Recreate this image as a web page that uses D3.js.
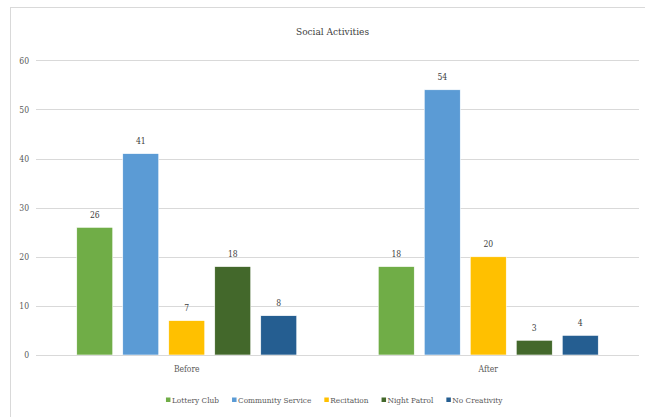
<!DOCTYPE html>
<html>
<head>
<meta charset="utf-8">
<script src="https://cdn.jsdelivr.net/npm/d3@7"></script>
<style>
  html, body { margin: 0; padding: 0; background: #fff; }
  svg { display: block; }
  svg text { font-stretch: condensed; }
</style>
</head>
<body>
<svg id="chart" width="645" height="417"></svg>
<script>
const title = "Social Activities";
const categories = ["Before", "After"];
const series = ["Lottery Club", "Community Service", "Recitation", "Night Patrol", "No Creativity"];
const lotteryClub = [26, 18];
const communityService = [41, 54];
const recitation = [7, 20];
const nightPatrol = [18, 3];
const noCreativity = [8, 4];
const yTicks = [0, 10, 20, 30, 40, 50, 60];
const colors = ["#70AD47", "#5B9BD5", "#FFC000", "#43682B", "#255E91"];

const values = [lotteryClub, communityService, recitation, nightPatrol, noCreativity];
const FONT = "'DejaVu Serif Condensed', 'DejaVu Serif', serif";

const svg = d3.select("#chart");
const plot = { left: 36, right: 639, top: 60.3, bottom: 355 };

svg.append("rect").attr("x", 10.5).attr("y", 7.5).attr("width", 700).attr("height", 500)
  .attr("fill", "none").attr("stroke", "#d9d9d9").attr("stroke-width", 1);

const y = d3.scaleLinear().domain([0, 60]).range([plot.bottom, plot.top]);
const x0 = d3.scaleBand().domain(categories).range([plot.left, plot.right]).padding(0);
const groupW = 220;
const x1 = d3.scaleBand().domain(series).range([-groupW / 2, groupW / 2])
  .paddingInner(10 / 46).paddingOuter(0);

svg.append("g").selectAll("line").data(yTicks).join("line")
  .attr("x1", plot.left).attr("x2", plot.right)
  .attr("y1", d => Math.round(y(d)) + 0.5).attr("y2", d => Math.round(y(d)) + 0.5)
  .attr("stroke", "#d9d9d9").attr("stroke-width", 1);

const yAxis = d3.axisLeft(y).tickValues(yTicks).tickSize(0).tickPadding(0);
const yg = svg.append("g").attr("transform", `translate(${plot.left - 7},0)`).call(yAxis);
yg.select(".domain").remove();
yg.attr("font-family", FONT).attr("font-size", 8.5);
yg.selectAll("text").attr("fill", "#595959");

const xAxis = d3.axisBottom(x0).tickSize(0).tickPadding(0);
const xg = svg.append("g").attr("transform", `translate(0,${plot.bottom + 11})`).call(xAxis);
xg.select(".domain").remove();
xg.attr("font-family", FONT).attr("font-size", 8.5);
xg.selectAll("text").attr("fill", "#595959");

const flat = [];
categories.forEach((c, ci) => series.forEach((s, si) => flat.push({ c, s, si, v: values[si][ci] })));

const bars = svg.append("g");
bars.selectAll("rect").data(flat).join("rect")
  .attr("x", d => x0(d.c) + x0.bandwidth() / 2 + x1(d.s))
  .attr("width", x1.bandwidth())
  .attr("y", d => y(d.v))
  .attr("height", d => y(0) - y(d.v))
  .attr("fill", d => colors[d.si])
  .attr("stroke", "#ffffff").attr("stroke-width", 0.6);

bars.selectAll("text").data(flat).join("text")
  .attr("x", d => x0(d.c) + x0.bandwidth() / 2 + x1(d.s) + x1.bandwidth() / 2)
  .attr("y", d => y(d.v) - 9.5)
  .attr("text-anchor", "middle")
  .attr("font-family", FONT).attr("font-size", 8.5).attr("fill", "#404040")
  .text(d => d.v);

svg.append("line").attr("x1", plot.left).attr("x2", plot.right)
  .attr("y1", Math.round(y(0)) + 0.5).attr("y2", Math.round(y(0)) + 0.5)
  .attr("stroke", "#d9d9d9").attr("stroke-width", 1);

svg.append("text").attr("x", 332.5).attr("y", 34.5).attr("text-anchor", "middle")
  .attr("font-family", FONT).attr("font-size", 10).attr("fill", "#404040").text(title);

const lg = svg.append("g");
const items = lg.selectAll("g").data(series).join("g");
items.append("rect").attr("width", 4.5).attr("height", 4.5).attr("y", -4.5)
  .attr("fill", (d, i) => colors[i]);
items.append("text").attr("x", 6).attr("y", 0.5)
  .attr("font-family", FONT).attr("font-size", 8.2).attr("fill", "#595959")
  .text(d => d);
let pos = 0;
const offs = [];
items.each(function () {
  offs.push(pos);
  const w = d3.select(this).select("text").node().getComputedTextLength();
  pos += 6 + w + 13;
});
const total = pos - 13;
const startX = 334.2 - total / 2;
items.attr("transform", (d, i) => `translate(${startX + offs[i]},${402})`);
</script>
</body>
</html>
